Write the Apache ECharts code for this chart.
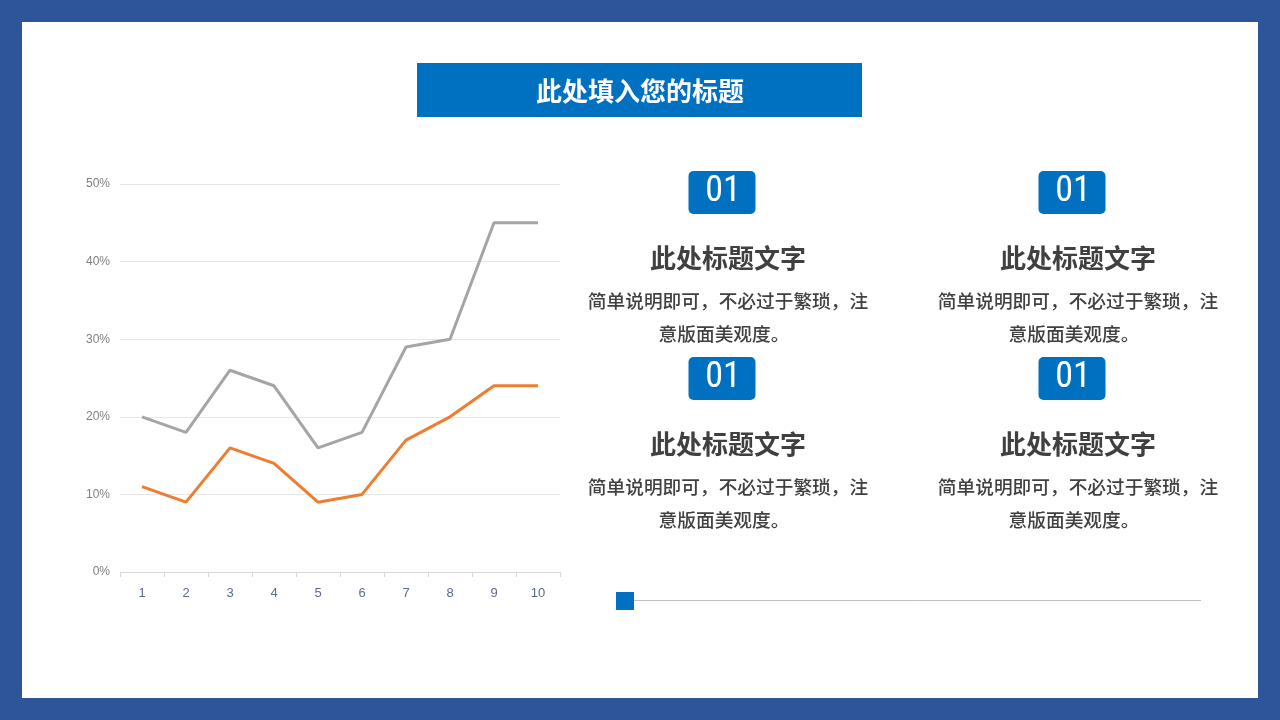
<!DOCTYPE html>
<html><head><meta charset="utf-8">
<script src="https://cdn.jsdelivr.net/npm/echarts@6/dist/echarts.min.js"></script>
<style>html,body{margin:0;padding:0;background:#2E5597;}#c{width:1280px;height:720px;}</style>
</head><body><div id="c"></div>
<script>
var categories = ['1','2','3','4','5','6','7','8','9','10'];
var seriesGray = [20,18,26,24,16,18,29,30,45,45];
var seriesOrange = [11,9,16,14,9,10,17,20,24,24];
var yTicks = [0,10,20,30,40,50];
var pageTitle = '此处填入您的标题';
var cardNumbers = ['01','01','01','01'];
var cardTitles = ['此处标题文字','此处标题文字','此处标题文字','此处标题文字'];
var cardLine1 = '简单说明即可，不必过于繁琐，注';
var cardLine2 = '意版面美观度。';

var font = '"Noto Sans CJK SC", "Microsoft YaHei", sans-serif';
var chart = echarts.init(document.getElementById('c'));

var graphics = [
  {type:'rect', shape:{x:0,y:0,width:1280,height:720}, style:{fill:'#2E5597'}, z:-10},
  {type:'rect', shape:{x:22,y:22,width:1236,height:676}, style:{fill:'#ffffff'}, z:-9},
  {type:'rect', shape:{x:417,y:63,width:445,height:54}, style:{fill:'#0070C0'}},
  {type:'text', x:640, y:91, style:{text:pageTitle, fill:'#fff', font:'bold 26px '+font, textAlign:'center', textVerticalAlign:'middle'}},
  {type:'rect', shape:{x:616,y:592,width:18,height:18}, style:{fill:'#0070C0'}},
  {type:'line', shape:{x1:634,y1:600.5,x2:1201,y2:600.5}, style:{stroke:'#BFBFBF', lineWidth:1}}
];
var centers = [[722,171],[1072,171],[722,357],[1072,357]];
centers.forEach(function(c,i){
  var cx=c[0], y=c[1];
  graphics.push({type:'rect', shape:{x:cx-33.5,y:y,width:67,height:43,r:5}, style:{fill:'#0070C0'}});
  graphics.push({type:'text', x:cx+1, y:y+21, style:{text:cardNumbers[i], fill:'#fff', font:'36px "Liberation Sans Narrow", "Roboto Condensed", Arial, sans-serif', textAlign:'center', textVerticalAlign:'middle'}});
  graphics.push({type:'text', x:cx+6, y:y+87, style:{text:cardTitles[i], fill:'#404040', font:'bold 26px '+font, textAlign:'center', textVerticalAlign:'middle'}});
  graphics.push({type:'text', x:cx+6, y:y+130, style:{text:cardLine1, fill:'#404040', font:'500 18.7px '+font, textAlign:'center', textVerticalAlign:'middle'}});
  graphics.push({type:'text', x:cx+2, y:y+163, style:{text:cardLine2, fill:'#404040', font:'500 18.7px '+font, textAlign:'center', textVerticalAlign:'middle'}});
});

chart.setOption({
  animation:false,
  backgroundColor:'transparent',
  graphic:graphics,
  grid:{left:120, right:720, top:184, bottom:148, containLabel:false},
  xAxis:{type:'category', data:categories, boundaryGap:true,
    axisLine:{lineStyle:{color:'#D9D9D9'}},
    axisTick:{show:true, lineStyle:{color:'#D9D9D9'}, length:5},
    axisLabel:{color:'#5B6B8C', fontSize:13, margin:15, fontFamily:'"Liberation Sans", Arial, sans-serif'}},
  yAxis:{type:'value', min:yTicks[0], max:yTicks[yTicks.length-1], interval:10,
    axisLine:{show:false}, axisTick:{show:false},
    splitLine:{lineStyle:{color:'#E6E6E6'}},
    axisLabel:{color:'#7F7F7F', fontSize:12, margin:10, formatter:'{value}%', fontFamily:'"Liberation Sans", Arial, sans-serif'}},
  series:[
    {type:'line', data:seriesGray, symbol:'none', lineStyle:{color:'#A5A5A5', width:3}},
    {type:'line', data:seriesOrange, symbol:'none', lineStyle:{color:'#ED7D31', width:3}}
  ]
});
</script></body></html>
